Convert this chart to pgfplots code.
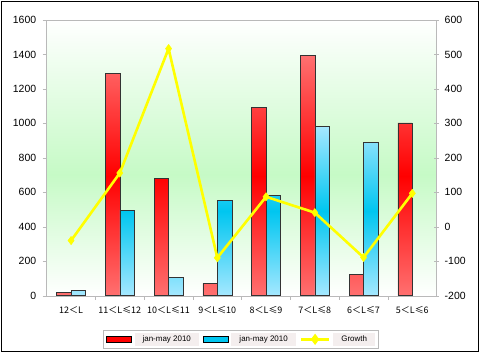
\documentclass[border=0pt]{standalone}
\usepackage{fontspec}
\setmainfont{Liberation Sans}
\newfontfamily\cjk{Noto Sans CJK SC}
\usepackage{pgfplots}
\pgfplotsset{compat=1.18}

\definecolor{redL}{RGB}{255,112,112}
\definecolor{redM}{RGB}{255,0,0}
\definecolor{bluL}{RGB}{165,232,255}
\definecolor{bluM}{RGB}{0,198,240}
\definecolor{bgG}{RGB}{198,250,198}
\definecolor{axg}{RGB}{185,185,185}
\definecolor{legbg}{RGB}{244,238,238}
\definecolor{ylw}{RGB}{255,255,0}

\pgfdeclareverticalshading{plotbg}{100bp}{color(0bp)=(white); color(25bp)=(white); color(47bp)=(bgG); color(75bp)=(white); color(100bp)=(white)}

\begin{document}
\begin{tikzpicture}
\pgfplotsset{
  common/.style={
    width=390bp, height=275.7bp, scale only axis,
    at={(0,0)}, anchor=south west,
    xmin=-0.5, xmax=7.5,
    /pgf/number format/assume math mode=true,
    /pgf/number format/set thousands separator={},
    ticklabel style={font=\fontsize{10.5}{12}\selectfont, text=black},
  }
}
\begin{axis}[common,
  ymin=0, ymax=1600, ytick={0,200,...,1600},
  axis line style={draw=axg},
  ytick pos=left, xtick pos=bottom,
  tick align=outside,
  major tick length=4bp, minor tick length=4bp,
  every tick/.style={draw=axg},
  xtick={0,...,7},
  xticklabels={12＜L,11＜L≤12,10＜L≤11,9＜L≤10,8＜L≤9,7＜L≤8,6＜L≤7,5＜L≤6},
  xticklabel style={font=\cjk\fontsize{9}{10}\selectfont, text=black, yshift=-3bp},
  major x tick style={draw=none},
  minor xtick={0.5,1.5,...,6.5},
  yticklabel style={xshift=-3bp},
  axis background/.style={shading=plotbg},
]
\addplot[ybar, bar width=14.5bp, bar shift=-7.25bp, draw=black!80, line width=0.6bp,
  top color=redL, bottom color=redL, middle color=redM]
  coordinates {(0,19) (1,1288) (2,682) (3,72) (4,1094) (5,1393) (6,124) (7,1003)};
\addplot[ybar, bar width=14.5bp, bar shift=7.25bp, draw=black!80, line width=0.6bp,
  top color=bluL, bottom color=bluL, middle color=bluM]
  coordinates {(0,31) (1,497) (2,106) (3,551) (4,582) (5,983) (6,888)};
\end{axis}
\begin{axis}[common,
  ymin=-200, ymax=600, ytick={-200,-100,...,600},
  axis x line=none,
  axis y line*=right,
  y axis line style={draw=axg},
  tick align=center, major tick length=5bp,
  every tick/.style={draw=axg},
  yticklabel style={xshift=2bp},
  legend style={at={(0.497,-0.1244)}, anchor=north, legend columns=3,
    draw=axg, fill=white, font=\fontsize{8}{9.5}\selectfont,
    inner xsep=3bp, inner ysep=2.5bp,
    /tikz/every even column/.append style={column sep=4bp, nodes={fill=legbg, inner xsep=8bp, inner ysep=3bp}},
    /tikz/every odd column/.append style={column sep=3bp}},
]
\addlegendimage{legend image code/.code={\draw[draw=black, fill=redM, line width=0.6bp] (0bp,-3.2bp) rectangle (25bp,3.2bp);}}
\addlegendentry{jan-may 2010}
\addlegendimage{legend image code/.code={\draw[draw=black, fill=bluM, line width=0.6bp] (0bp,-3.2bp) rectangle (25bp,3.2bp);}}
\addlegendentry{jan-may 2010}
\addplot[color=ylw, line width=2.6bp, mark=diamond*, mark size=4.2bp,
  mark options={fill=ylw, draw=ylw, line width=0.4bp},
  legend image code/.code={\draw[ylw, line width=2.6bp] (0bp,0bp) -- (28bp,0bp); \fill[ylw] (14bp,0bp) +(0,3.5bp) -- +(2.6bp,0) -- +(0,-3.5bp) -- +(-2.6bp,0) -- cycle;}]
  coordinates {(0,-40) (1,156) (2,517) (3,-90) (4,87) (5,41) (6,-89) (7,97)};
\addlegendentry{Growth}
\end{axis}
\draw[black, line width=1.2bp] (-45.2bp,-55.8bp) rectangle (431.8bp,294.2bp);
\pgfresetboundingbox
\path[use as bounding box] (-46.7bp,-57.3bp) rectangle (433.3bp,295.7bp);
\end{tikzpicture}
\end{document}
